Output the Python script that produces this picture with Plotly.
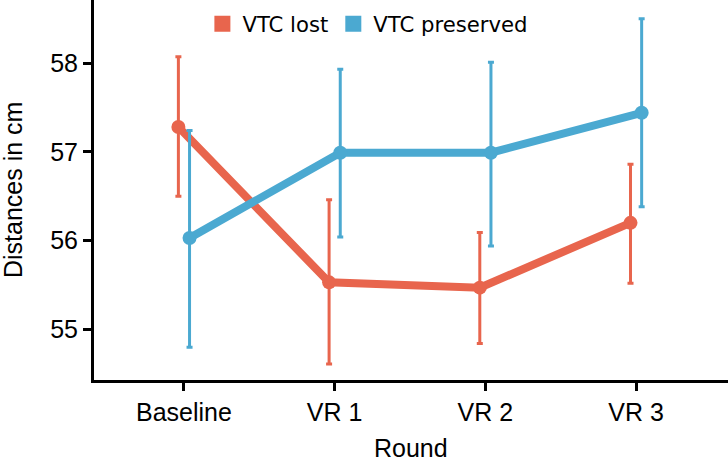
import plotly.graph_objects as go

categories = ["Baseline", "VR 1", "VR 2", "VR 3"]
groups = ["VTC lost", "VTC preserved"]
lost_mean = [57.28, 55.53, 55.47, 56.20]
lost_upper = [58.07, 56.46, 56.09, 56.86]
lost_lower = [56.50, 54.61, 54.84, 55.52]
pres_mean = [56.03, 56.99, 56.99, 57.44]
pres_upper = [57.24, 57.93, 58.01, 58.50]
pres_lower = [54.80, 56.04, 55.94, 56.38]
y_ticks = [55, 56, 57, 58]

colors = {"VTC lost": "#E8654D", "VTC preserved": "#4BA9D1"}
dodge = 0.037

fig = go.Figure()
series = [
    ("VTC lost", lost_mean, lost_upper, lost_lower, -dodge),
    ("VTC preserved", pres_mean, pres_upper, pres_lower, dodge),
]
for name, mean, up, lo, off in series:
    xs = [i + off for i in range(len(categories))]
    c = colors[name]
    fig.add_trace(go.Scatter(
        x=xs, y=mean, mode="lines+markers", name=name, showlegend=False,
        line=dict(color=c, width=8),
        marker=dict(color=c, size=14),
        error_y=dict(type="data", symmetric=False,
                     array=[u - m for u, m in zip(up, mean)],
                     arrayminus=[m - l for m, l in zip(mean, lo)],
                     color=c, thickness=3, width=3),
    ))
for name in groups:
    fig.add_trace(go.Scatter(
        x=[None], y=[None], mode="markers", name=name,
        marker=dict(symbol="square", color=colors[name], size=16),
    ))

fig.update_layout(
    width=728, height=462,
    margin=dict(l=94, r=0, t=0, b=82),
    plot_bgcolor="white", paper_bgcolor="white",
    font=dict(family="Liberation Sans, Arial, sans-serif", size=25, color="black"),
    legend=dict(orientation="h", x=0.432, y=0.937, xanchor="center", yanchor="middle",
                font=dict(family="DejaVu Sans, Verdana, sans-serif", size=21.2, color="black"),
                itemwidth=30, tracegroupgap=0, bgcolor="rgba(0,0,0,0)"),
    annotations=[
        dict(text="Round", xref="paper", yref="paper", x=0.5, y=0, yshift=-68,
             xanchor="center", yanchor="middle", showarrow=False,
             font=dict(size=25)),
        dict(text="Distances in cm", xref="paper", yref="paper", x=0, y=0.5, xshift=-81,
             xanchor="center", yanchor="middle", showarrow=False, textangle=-90,
             font=dict(size=25)),
    ],
)
fig.update_xaxes(
    range=[-0.597, 3.61], tickvals=list(range(len(categories))), ticktext=categories,
    showline=True, linecolor="black", linewidth=3, ticks="outside", ticklen=8,
    tickwidth=3, tickcolor="black", showgrid=False, zeroline=False, automargin=False,
)
fig.update_yaxes(
    range=[54.43, 58.71], tickvals=y_ticks,
    showline=True, linecolor="black", linewidth=3, ticks="outside", ticklen=8,
    tickwidth=3, tickcolor="black", showgrid=False, zeroline=False, automargin=False,
)

fig.write_html("out.html", config={"displayModeBar": False},
               post_script="document.body.style.margin='0';")
